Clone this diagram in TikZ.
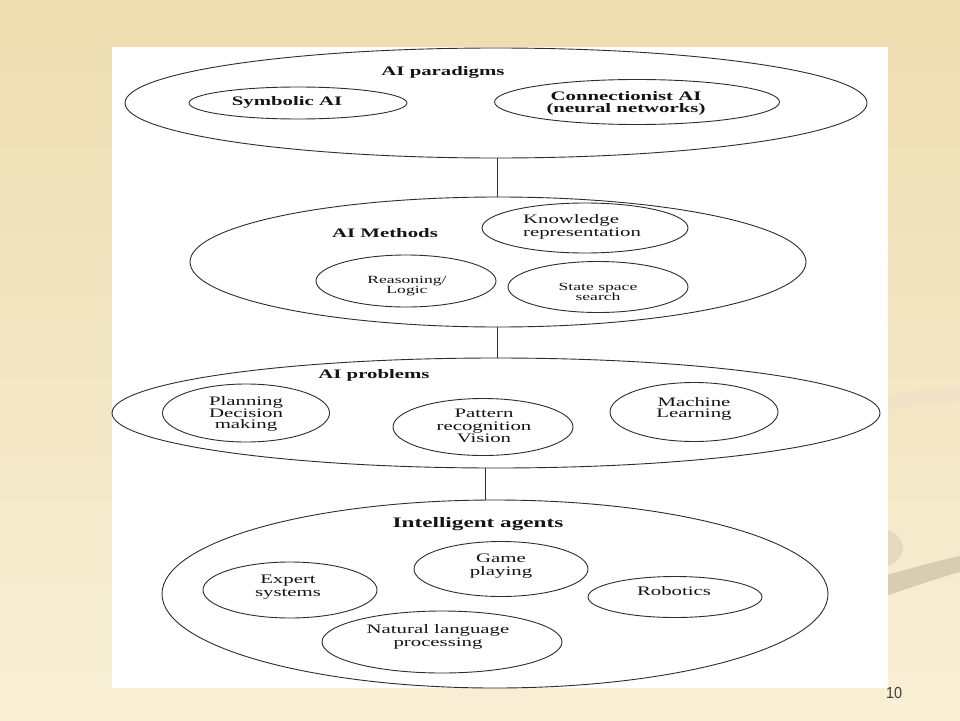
\documentclass[tikz,border=0pt]{standalone}
\usepackage{fontspec}
\setmainfont{Liberation Serif}[FakeStretch=1.6]
\newfontfamily\pnfont{Liberation Sans}[FakeStretch=0.9]
\usetikzlibrary{shapes.geometric}
\definecolor{bgtop}{RGB}{237,221,176}
\definecolor{bgbot}{RGB}{248,239,213}
\definecolor{swa}{RGB}{239,226,198}
\definecolor{swb}{RGB}{229,218,192}
\definecolor{swc}{RGB}{216,205,177}
\definecolor{linec}{RGB}{45,45,45}
\definecolor{txtc}{RGB}{20,20,20}
\definecolor{pnc}{RGB}{60,60,60}
\tikzset{
  bigell/.style={ellipse, draw=linec, line width=0.9pt, inner sep=0pt},
  subell/.style={ellipse, draw=linec, line width=0.9pt, inner sep=0pt},
  ttl/.style={font=\fontsize{13}{13}\selectfont\bfseries, text=txtc, inner sep=0pt, anchor=base},
  btxt/.style={font=\fontsize{13}{12}\selectfont\bfseries, text=txtc, inner sep=0pt, align=center},
  rtxt/.style={font=\fontsize{13}{12.3}\selectfont, text=txtc, inner sep=0pt, align=center},
  stxt/.style={font=\fontsize{11}{10}\selectfont, text=txtc, inner sep=0pt, align=center},
  conn/.style={draw=linec, line width=0.9pt},
}
\begin{document}
\begin{tikzpicture}[x=1pt,y=-1pt]
\useasboundingbox (0,0) rectangle (960,720);
% background
\shade[top color=bgtop, bottom color=bgbot] (0,0) rectangle (960,720);
\fill[swa] (860,400) .. controls (900,393) and (930,389) .. (960,386) -- (960,400) .. controls (930,403) and (900,408) .. (860,414) -- cycle;
\fill[swb] (870,548) ellipse (33pt and 22pt);
\fill[swc] (860,582) .. controls (900,572) and (930,562) .. (960,556) -- (960,572) .. controls (930,580) and (900,592) .. (860,604) -- cycle;
% white panel
\fill[white] (112,47) rectangle (888,688);

% big ellipses
\node[bigell, minimum width=742pt, minimum height=110pt] (para) at (496,103) {};
\node[bigell, minimum width=616pt, minimum height=130pt] (meth) at (498,262) {};
\node[bigell, minimum width=768pt, minimum height=110pt] (prob) at (496,413) {};
\node[bigell, minimum width=666pt, minimum height=188pt] (agents) at (495,594) {};

% titles
\node[ttl] (paraT) at (443,75) {AI paradigms};
\node[ttl] (methT) at (385,237) {AI Methods};
\node[ttl] (probT) at (374,378) {AI problems};
\node[ttl, font=\fontsize{14.5}{14.5}\selectfont\bfseries] (agentsT) at (478,527) {Intelligent agents};

% sub ellipses
\node[subell, minimum width=218pt, minimum height=32pt] (symb) at (298,103) {};
\node[subell, minimum width=285pt, minimum height=45pt] (cnn) at (637,102) {};
\node[subell, minimum width=206pt, minimum height=50pt] (know) at (585,228) {};
\node[subell, minimum width=180pt, minimum height=52pt] (reas) at (406,281) {};
\node[subell, minimum width=180pt, minimum height=51pt] (stat) at (598,287) {};
\node[subell, minimum width=167pt, minimum height=58pt] (plan) at (246,413) {};
\node[subell, minimum width=180pt, minimum height=57pt] (patt) at (483,427) {};
\node[subell, minimum width=168pt, minimum height=59pt] (mach) at (694,412) {};
\node[subell, minimum width=174pt, minimum height=56pt] (expe) at (290,590) {};
\node[subell, minimum width=174pt, minimum height=55pt] (game) at (501,569) {};
\node[subell, minimum width=174pt, minimum height=41pt] (robo) at (675,597) {};
\node[subell, minimum width=240pt, minimum height=62pt] (nlp) at (442,642) {};

% texts
\node[btxt, anchor=base] (symbT) at (287,105) {Symbolic AI};
\node[btxt] (cnnT) at (626,103) {Connectionist AI\\(neural networks)};
\node[rtxt, align=left] (knowT) at (582,227) {Knowledge\\representation};
\node[stxt] (reasT) at (407,286) {Reasoning/\\Logic};
\node[stxt] (statT) at (598,292) {State space\\search};
\node[rtxt, font=\fontsize{13}{11.6}\selectfont] (planT) at (246,414) {Planning\\Decision\\making};
\node[rtxt] (pattT) at (484,426) {Pattern\\recognition\\Vision};
\node[rtxt, font=\fontsize{13}{11.6}\selectfont] (machT) at (694,409) {Machine\\Learning};
\node[rtxt, font=\fontsize{13}{13}\selectfont] (expeT) at (288,587) {Expert\\systems};
\node[rtxt] (gameT) at (501,566) {Game\\playing};
\node[rtxt, anchor=base] (roboT) at (674,595) {Robotics};
\node[rtxt, font=\fontsize{13}{13}\selectfont] (nlpT) at (438,637) {Natural language\\processing};

% connectors
\draw[conn] ([xshift=1pt]para.south) -- ([xshift=-1pt]meth.north);
\draw[conn] ([xshift=-1pt]meth.south) -- ([xshift=1pt]prob.north);
\draw[conn] ([xshift=-11pt]prob.south) -- ([xshift=-10pt]agents.north);

% page number
\node[font=\fontsize{16}{16}\selectfont\pnfont, text=pnc, inner sep=0pt, anchor=base] (pnum) at (894,698) {10};
\end{tikzpicture}
\end{document}
